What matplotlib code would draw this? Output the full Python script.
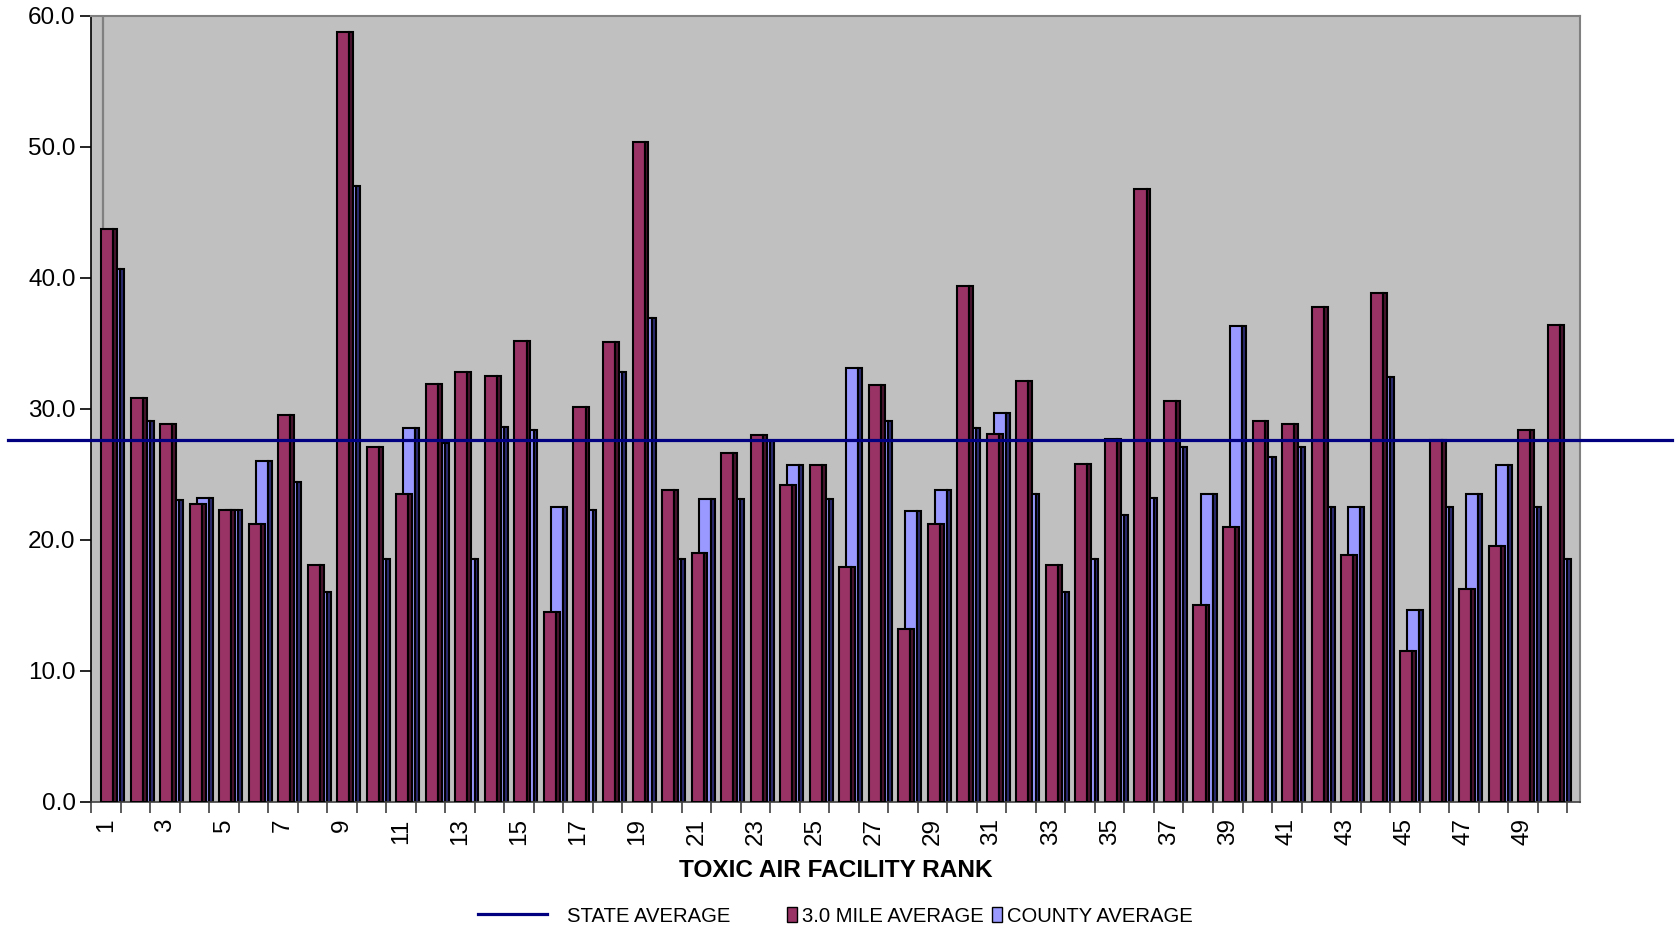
import numpy as np
import matplotlib
matplotlib.use('Agg')
import matplotlib.pyplot as plt
from matplotlib.lines import Line2D
from matplotlib.patches import Patch
import matplotlib.transforms as mtransforms

plt.rcParams['font.family'] = ['Liberation Sans', 'DejaVu Sans']

# facility rank 1..50
rank = np.arange(1, 51)

mile_avg = [43.7, 30.8, 28.8, 22.7, 22.3, 21.2, 29.5, 18.1, 58.8, 27.1,
            23.5, 31.9, 32.8, 32.5, 35.2, 14.5, 30.1, 35.1, 50.4, 23.8,
            19.0, 26.6, 28.0, 24.2, 25.7, 17.9, 31.8, 13.2, 21.2, 39.4,
            28.1, 32.1, 18.1, 25.8, 27.7, 46.8, 30.6, 15.0, 21.0, 29.1,
            28.8, 37.8, 18.8, 38.8, 11.5, 27.6, 16.2, 19.5, 28.4, 36.4]

county_avg = [40.7, 29.1, 23.0, 23.2, 22.3, 26.0, 24.4, 16.0, 47.0, 18.5,
              28.5, 27.4, 18.5, 28.6, 28.4, 22.5, 22.3, 32.8, 36.9, 18.5,
              23.1, 23.1, 27.5, 25.7, 23.1, 33.1, 29.1, 22.2, 23.8, 28.5,
              29.7, 23.5, 16.0, 18.5, 21.9, 23.2, 27.1, 23.5, 36.3, 26.3,
              27.1, 22.5, 22.5, 32.4, 14.6, 22.5, 23.5, 25.7, 22.5, 18.5]

state_avg = 27.6

maroon = '#993366'
maroon_side = '#4a1430'
blue = '#9999ff'
blue_side = '#2a2a70'

fig = plt.figure(figsize=(16.79, 9.30), dpi=100)
ax = fig.add_axes([0.0542, 0.138, 0.887, 0.845])
ax.set_facecolor('#c0c0c0')

x = np.arange(len(rank))
w_face = 0.41
w_side = 0.13

# county bars behind, 3.0 mile bars in front
ax.bar(x + 0.08, county_avg, w_face, align='edge', color=blue, edgecolor='black', linewidth=1.5, zorder=2)
ax.bar(x + 0.08 + w_face, county_avg, w_side, align='edge', color=blue_side, edgecolor='black', linewidth=1.5, zorder=2)
ax.bar(x - 0.16, mile_avg, w_face, align='edge', color=maroon, edgecolor='black', linewidth=1.5, zorder=3)
ax.bar(x - 0.16 + w_face, mile_avg, w_side, align='edge', color=maroon_side, edgecolor='black', linewidth=1.5, zorder=3)

# odd gray line near the first category
ax.axvline(-0.09, color='#808080', linewidth=1.6, zorder=1)

# state average runs across the whole figure
trans = mtransforms.blended_transform_factory(fig.transFigure, ax.transData)
ax.add_line(Line2D([0.005, 0.996], [state_avg, state_avg], transform=trans,
                   color='#000080', linewidth=2.3, clip_on=False, zorder=5))

ax.set_xlim(-0.5, 49.94)
ax.set_ylim(0, 60)
ax.set_yticks(np.arange(0, 61, 10))
ax.set_yticklabels([f'{v:.1f}' for v in np.arange(0, 61, 10)], fontsize=17.5)
ax.tick_params(axis='y', direction='out', length=8, width=1.2, pad=3)

ax.set_xticks(np.arange(-0.5, 50, 1.0))
ax.set_xticklabels([])
ax.tick_params(axis='x', which='major', direction='out', length=8, width=1.2, color='#404040')
ax.set_xticks(x[::2], minor=True)
ax.set_xticklabels([str(r) for r in rank[::2]], minor=True, rotation=90, fontsize=17.5)
ax.tick_params(axis='x', which='minor', length=0, pad=12)

for side in ['top', 'right']:
    ax.spines[side].set_color('#808080')
    ax.spines[side].set_linewidth(1.5)
ax.spines['left'].set_color('black')
ax.spines['bottom'].set_color('#404040')
ax.spines['left'].set_linewidth(1.2)
ax.spines['bottom'].set_linewidth(1.2)

ax.set_xlabel('TOXIC AIR FACILITY RANK', fontsize=17.6, fontweight='bold', labelpad=10)

leg1 = fig.legend([Line2D([0], [0], color='#000080', linewidth=2.3)], ['STATE AVERAGE'],
                  loc='center left', bbox_to_anchor=(0.2785, 0.015), frameon=False,
                  fontsize=14.6, handlelength=3.4, handletextpad=1.0, borderpad=0)
leg2 = fig.legend([Patch(facecolor=maroon, edgecolor='black'), Patch(facecolor=blue, edgecolor='black')],
                  ['3.0 MILE AVERAGE', 'COUNTY AVERAGE'],
                  loc='center left', bbox_to_anchor=(0.4625, 0.015), frameon=False,
                  fontsize=14.6, ncol=2, handlelength=0.5, handleheight=0.75,
                  handletextpad=0.25, columnspacing=0.4, borderpad=0)

fig.savefig('out.png', dpi=100)
